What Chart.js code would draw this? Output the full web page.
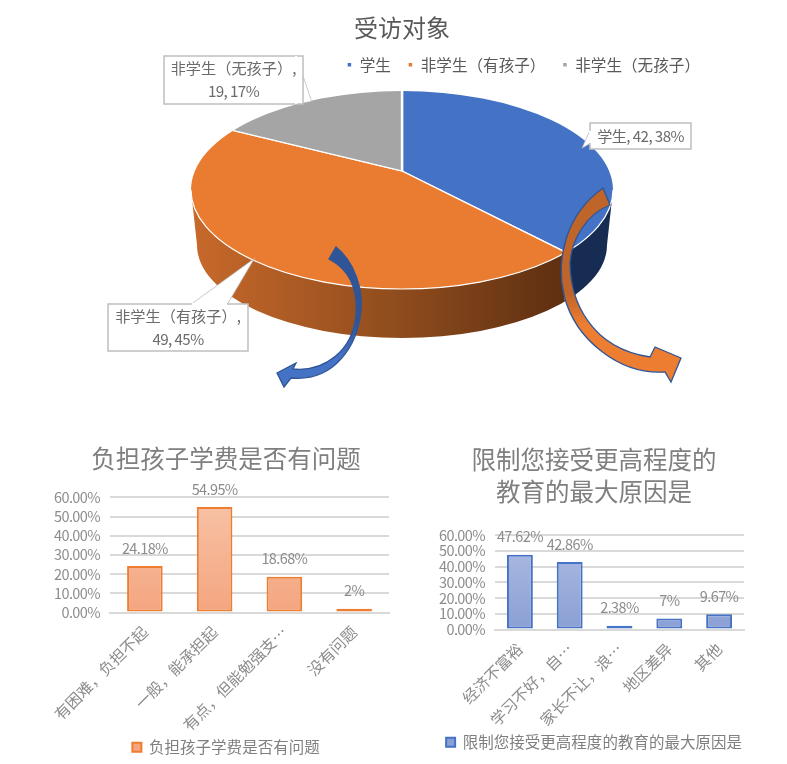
<!DOCTYPE html>
<html>
<head>
<meta charset="utf-8">
<script src="https://cdn.jsdelivr.net/npm/chart.js@4"></script>
<style>
  html, body { margin: 0; padding: 0; background: #fff; overflow: hidden; }
  #stage { position: relative; width: 787px; height: 764px; overflow: hidden; }
</style>
</head>
<body>
<div id="stage">
  <div style="position:absolute;left:0;top:0;width:787px;height:420px"><canvas id="pieChart"></canvas></div>
  <div style="position:absolute;left:0;top:430px;width:452px;height:340px"><canvas id="feeChart"></canvas></div>
  <div style="position:absolute;left:401px;top:430px;width:386px;height:340px"><canvas id="reasonChart"></canvas></div>
</div>
<script>
const FONT = '"Noto Sans CJK SC", "Noto Sans", sans-serif';

// 受访对象
const pieLabels = ['学生', '非学生（有孩子）', '非学生（无孩子）'];
const pieValues = [42, 49, 19];
const piePercents = [38, 45, 17];

// 负担孩子学费是否有问题
const feeLabels = ['有困难，负担不起', '一般，能承担起', '有点，但能勉强支…', '没有问题'];
const feeValues = [24.18, 54.95, 18.68, 2];
const feeText = ['24.18%', '54.95%', '18.68%', '2%'];

// 限制您接受更高程度的教育的最大原因是
const reasonLabels = ['经济不富裕', '学习不好，自…', '家长不让，浪…', '地区差异', '其他'];
const reasonValues = [47.62, 42.86, 2.38, 7, 9.67];
const reasonText = ['47.62%', '42.86%', '2.38%', '7%', '9.67%'];

// Top face of the tilted pie, page pixels
const TOP = { cx: 402, cy: 190, rx: 211, ry: 99 };
const BOTTOM = { cx: 402, cy: 245, rx: 205, ry: 93 };
const APEX = { x: 402, y: 171 };
const TILT = 0.455;

function topFacePoint(angle) {
  // where a slice edge leaving the apex meets the rim
  const dx = Math.cos(angle), dy = Math.sin(angle) * TILT;
  const oy = APEX.y - TOP.cy;
  const a = dx * dx / (TOP.rx * TOP.rx) + dy * dy / (TOP.ry * TOP.ry);
  const b = 2 * oy * dy / (TOP.ry * TOP.ry);
  const c = oy * oy / (TOP.ry * TOP.ry) - 1;
  const t = (-b + Math.sqrt(b * b - 4 * a * c)) / (2 * a);
  return { x: APEX.x + dx * t, y: APEX.y + dy * t };
}

function wallPath(ctx) {
  ctx.beginPath();
  ctx.ellipse(TOP.cx, TOP.cy, TOP.rx, TOP.ry, 0, Math.PI, 0, true);
  ctx.lineTo(BOTTOM.cx + BOTTOM.rx, BOTTOM.cy);
  ctx.ellipse(BOTTOM.cx, BOTTOM.cy, BOTTOM.rx, BOTTOM.ry, 0, 0, Math.PI, false);
  ctx.closePath();
}

const tiltedPie = {
  id: 'tiltedPie',
  beforeDatasetsDraw(chart) {
    const ctx = chart.ctx;
    const arcs = chart.getDatasetMeta(0).data;
    const seam = topFacePoint(arcs[0].endAngle);

    // side wall, split where the first slice ends
    ctx.save();
    wallPath(ctx);
    ctx.clip();
    const brown = ctx.createLinearGradient(TOP.cx - TOP.rx, 0, seam.x, 0);
    brown.addColorStop(0, '#c8692b');
    brown.addColorStop(0.55, '#8f4c1d');
    brown.addColorStop(1, '#5d2f11');
    ctx.fillStyle = brown;
    ctx.fillRect(0, 0, seam.x, 420);
    ctx.fillStyle = '#172c52';
    ctx.fillRect(seam.x, 0, 787 - seam.x, 420);
    ctx.strokeStyle = '#ffffff';
    ctx.lineWidth = 1;
    ctx.beginPath();
    ctx.moveTo(seam.x, seam.y);
    ctx.lineTo(seam.x - 1, 300);
    ctx.stroke();
    ctx.restore();

    // the library's arcs, squashed and cut to the rim
    const a0 = arcs[0];
    const s = 270 / a0.outerRadius;
    ctx.save();
    ctx.beginPath();
    ctx.ellipse(TOP.cx, TOP.cy, TOP.rx, TOP.ry, 0, 0, Math.PI * 2);
    ctx.clip();
    ctx.translate(APEX.x, APEX.y);
    ctx.scale(s, s * TILT);
    ctx.translate(-a0.x, -a0.y);
  },
  afterDatasetsDraw(chart) {
    const ctx = chart.ctx;
    ctx.restore();
    ctx.save();
    ctx.strokeStyle = '#ffffff';
    ctx.lineWidth = 1.2;
    ctx.beginPath();
    ctx.ellipse(TOP.cx, TOP.cy, TOP.rx, TOP.ry, 0, 0, Math.PI);
    ctx.stroke();
    ctx.restore();
  },
  afterDraw(chart) {
    const ctx = chart.ctx;
    drawArrows(ctx);
    const texts = pieLabels.map((l, i) => [l, pieValues[i], piePercents[i] + '%']);
    callout(ctx, [590, 123, 101, 26], [[590, 131], [583, 147], [590, 143]],
      [texts[0][0] + ', ' + texts[0][1] + ', ' + texts[0][2]]);
    callout(ctx, [108, 304, 140, 47], [[192, 304], [253, 260], [227, 304]],
      [texts[1][0] + ',', texts[1][1] + ', ' + texts[1][2]]);
    callout(ctx, [164, 56, 139, 48], [[296, 56], [311, 101], [296, 104]],
      [texts[2][0] + ',', texts[2][1] + ', ' + texts[2][2]]);
  }
};

function callout(ctx, box, tip, lines) {
  const [x, y, w, h] = box;
  ctx.save();
  ctx.fillStyle = '#ffffff';
  ctx.strokeStyle = '#bfbfbf';
  ctx.lineWidth = 1.5;
  ctx.beginPath();
  ctx.moveTo(tip[0][0], tip[0][1]);
  ctx.lineTo(tip[1][0], tip[1][1]);
  ctx.lineTo(tip[2][0], tip[2][1]);
  ctx.stroke();
  ctx.fill();
  ctx.fillRect(x, y, w, h);
  ctx.strokeRect(x, y, w, h);
  ctx.beginPath();
  ctx.moveTo(tip[0][0], tip[0][1]);
  ctx.lineTo(tip[2][0], tip[2][1]);
  ctx.strokeStyle = '#ffffff';
  ctx.lineWidth = 2;
  ctx.stroke();
  ctx.fillStyle = '#6b6b6b';
  ctx.font = '15.2px ' + FONT;
  ctx.textAlign = 'center';
  ctx.textBaseline = 'middle';
  lines.forEach((t, i) => {
    // lines with digits run tighter in the original
    ctx.letterSpacing = /\d/.test(t) ? '-0.6px' : '0px';
    ctx.fillText(t, x + w / 2, y + h / 2 + (i - (lines.length - 1) / 2) * 23);
  });
  ctx.letterSpacing = '0px';
  ctx.restore();
}

function drawArrows(ctx) {
  // blue one, curving down to the left
  ctx.save();
  let g = ctx.createLinearGradient(0, 247, 0, 385);
  g.addColorStop(0, '#2f5597');
  g.addColorStop(0.55, '#2f5597');
  g.addColorStop(0.8, '#4472c4');
  g.addColorStop(1, '#4472c4');
  ctx.fillStyle = g;
  ctx.strokeStyle = '#2f5597';
  ctx.lineWidth = 1.3;
  ctx.beginPath();
  ctx.moveTo(336, 247);
  ctx.bezierCurveTo(355, 262, 363, 290, 361, 310);
  ctx.bezierCurveTo(358, 345, 335, 382, 291, 378);
  ctx.lineTo(284, 387);
  ctx.lineTo(277, 373);
  ctx.lineTo(296, 363);
  ctx.lineTo(293, 369);
  ctx.bezierCurveTo(325, 372, 353, 350, 356, 315);
  ctx.bezierCurveTo(358, 290, 350, 270, 329, 259);
  ctx.closePath();
  ctx.fill();
  ctx.stroke();

  // orange one, curving down to the right
  g = ctx.createLinearGradient(0, 188, 0, 382);
  g.addColorStop(0, '#c0652a');
  g.addColorStop(0.55, '#c0652a');
  g.addColorStop(0.7, '#ed7d31');
  g.addColorStop(1, '#ed7d31');
  ctx.fillStyle = g;
  ctx.beginPath();
  ctx.moveTo(603, 188);
  ctx.lineTo(610, 205);
  ctx.bezierCurveTo(585, 215, 572, 240, 570, 262);
  ctx.bezierCurveTo(570, 300, 590, 348, 650, 357);
  ctx.lineTo(655, 347);
  ctx.lineTo(681, 358);
  ctx.lineTo(671, 382);
  ctx.lineTo(665, 372);
  ctx.bezierCurveTo(620, 375, 575, 340, 564, 295);
  ctx.bezierCurveTo(556, 260, 565, 215, 603, 188);
  ctx.closePath();
  ctx.fill();
  ctx.stroke();
  ctx.restore();
}

new Chart(document.getElementById('pieChart'), {
  type: 'pie',
  data: {
    labels: pieLabels,
    datasets: [{
      data: pieValues,
      backgroundColor: ['#4472c4', '#ea7c31', '#a5a5a5'],
      borderColor: '#ffffff',
      borderWidth: 1.5,
      clip: false
    }]
  },
  options: {
    responsive: true,
    maintainAspectRatio: false,
    animation: false,
    layout: { padding: { left: 87, right: 70 } },
    plugins: {
      title: {
        display: true,
        text: '受访对象',
        color: '#595959',
        font: { family: FONT, size: 24, weight: 'normal', lineHeight: 1 },
        padding: { top: 16, bottom: 0 }
      },
      legend: {
        position: 'top',
        align: 'end',
        labels: {
          color: '#595959',
          font: { family: FONT, size: 15.6 },
          usePointStyle: true,
          pointStyle: 'rect',
          boxWidth: 5,
          boxHeight: 5,
          padding: 17
        }
      },
      tooltip: { enabled: false }
    }
  },
  plugins: [tiltedPie]
});

const barLabels = {
  id: 'barLabels',
  afterLayout(chart) {
    // room for the tick labels left of the axis box, the labels get clipped to it
    const y = chart.scales.y;
    y.left -= 30;
    y.width += 30;
    if (!y.tightLabels) {
      const drawLabels = y.drawLabels;
      y.drawLabels = function (area) {
        chart.ctx.letterSpacing = '-0.6px';
        drawLabels.call(y, area);
        chart.ctx.letterSpacing = '0px';
      };
      y.tightLabels = true;
    }
  },
  afterDatasetsDraw(chart, args, opts) {
    const ctx = chart.ctx;
    ctx.save();
    ctx.fillStyle = '#8c8c8c';
    ctx.font = '14.5px ' + FONT;
    ctx.letterSpacing = '-0.6px';
    ctx.textAlign = 'center';
    ctx.textBaseline = 'middle';
    chart.getDatasetMeta(0).data.forEach((bar, i) => {
      ctx.fillText(opts.texts[i], bar.x, bar.y - 18);
    });
    ctx.letterSpacing = '0px';
    ctx.restore();
  }
};

function barGradient(topColor, bottomColor) {
  return (c) => {
    const area = c.chart.chartArea;
    if (!area) return bottomColor;
    const g = c.chart.ctx.createLinearGradient(0, area.top, 0, area.bottom);
    g.addColorStop(0, topColor);
    g.addColorStop(1, bottomColor);
    return g;
  };
}

function barChart(id, cfg) {
  return new Chart(document.getElementById(id), {
    type: 'bar',
    data: {
      labels: cfg.labels,
      datasets: [{
        label: cfg.seriesName,
        data: cfg.values,
        backgroundColor: barGradient(cfg.fillTop, cfg.fillBottom),
        borderColor: cfg.edge,
        borderWidth: 2,
        borderSkipped: false,
        categoryPercentage: 1,
        barPercentage: cfg.barPercentage
      }]
    },
    options: {
      responsive: true,
      maintainAspectRatio: false,
      animation: false,
      layout: { padding: cfg.padding },
      scales: {
        x: {
          grid: { display: false },
          border: { color: '#d9d9d9', width: 2 },
          afterFit(s) { s.height = cfg.xHeight; },
          ticks: {
            color: '#8c8c8c',
            font: { family: FONT, size: 15.5 },
            minRotation: 45,
            maxRotation: 45,
            autoSkip: false,
            padding: 2
          }
        },
        y: {
          min: 0,
          max: 60,
          afterFit(s) { s.width = cfg.yWidth; },
          grid: { color: '#d9d9d9', lineWidth: 2, drawTicks: false },
          border: { display: false },
          ticks: {
            stepSize: 10,
            autoSkip: false,
            color: '#8c8c8c',
            font: { family: FONT, size: 14.5 },
            padding: 10,
            callback: (v) => v.toFixed(2) + '%'
          }
        }
      },
      plugins: {
        title: {
          display: true,
          text: cfg.title,
          color: '#7f7f7f',
          font: { family: FONT, size: 24.5, weight: 'normal', lineHeight: cfg.titleLine },
          padding: cfg.titlePad
        },
        legend: {
          position: 'bottom',
          labels: {
            color: '#7f7f7f',
            font: { family: FONT, size: 15.5 },
            boxWidth: 9,
            boxHeight: 9,
            padding: 4
          }
        },
        barLabels: { texts: cfg.texts },
        tooltip: { enabled: false }
      }
    },
    plugins: [barLabels]
  });
}

barChart('feeChart', {
  labels: feeLabels,
  values: feeValues,
  texts: feeText,
  seriesName: '负担孩子学费是否有问题',
  title: '负担孩子学费是否有问题',
  fillTop: '#f8c3a7',
  fillBottom: '#f4a57f',
  edge: '#ed7d31',
  barPercentage: 0.51,
  padding: { left: 63, right: 63, bottom: 5 },
  xHeight: 123,
  yWidth: 47,
  titleLine: 1.2,
  titlePad: { top: 14, bottom: 24 }
});

barChart('reasonChart', {
  labels: reasonLabels,
  values: reasonValues,
  texts: reasonText,
  seriesName: '限制您接受更高程度的教育的最大原因是',
  title: ['限制您接受更高程度的', '教育的最大原因是'],
  fillTop: '#aebce2',
  fillBottom: '#8a9fd4',
  edge: '#4472c4',
  barPercentage: 0.52,
  padding: { left: 43, right: 43, bottom: 10 },
  xHeight: 101,
  yWidth: 51,
  titleLine: 1.33,
  titlePad: { top: 13, bottom: 27 }
});
</script>
</body>
</html>
